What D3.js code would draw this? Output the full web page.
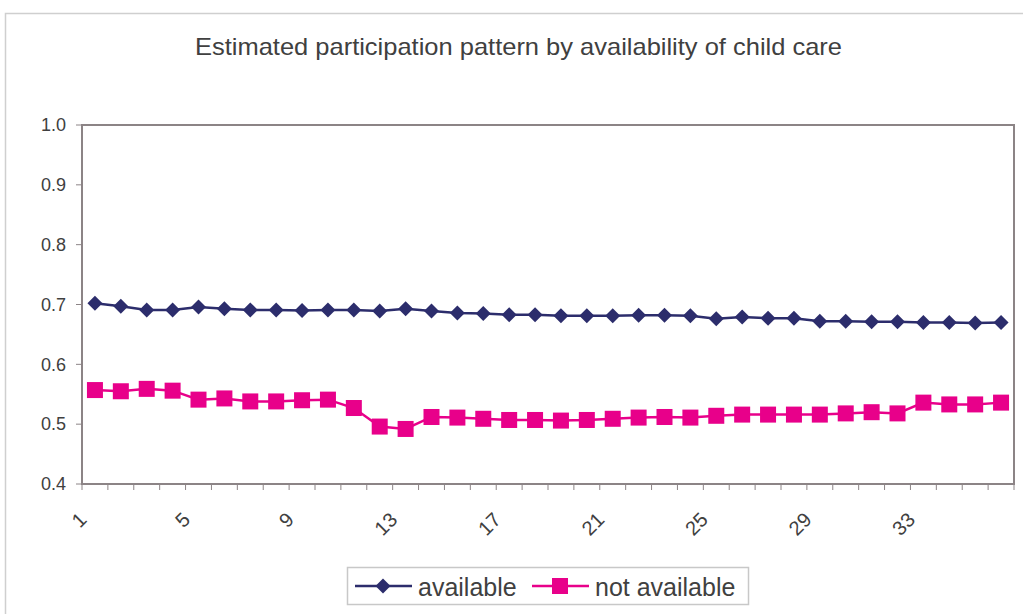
<!DOCTYPE html>
<html>
<head>
<meta charset="utf-8">
<script src="https://cdn.jsdelivr.net/npm/d3@7"></script>
<style>
  html, body { margin: 0; padding: 0; background: #fff; }
  svg { display: block; font-family: Arial, "Liberation Sans", sans-serif; }
</style>
</head>
<body>
<svg id="chart" width="1023" height="614"></svg>
<script>
const categories = d3.range(1, 37).map(String);
const available = [
  0.702, 0.697, 0.691, 0.691, 0.696, 0.693, 0.691, 0.691, 0.690, 0.691,
  0.691, 0.689, 0.693, 0.689, 0.686, 0.685, 0.683, 0.683, 0.681, 0.681,
  0.681, 0.682, 0.682, 0.681, 0.676, 0.679, 0.677, 0.677, 0.672, 0.672,
  0.671, 0.671, 0.670, 0.670, 0.669, 0.670
];
const notAvailable = [
  0.557, 0.555, 0.559, 0.556, 0.541, 0.543, 0.538, 0.538, 0.540, 0.541,
  0.527, 0.496, 0.492, 0.512, 0.511, 0.509, 0.507, 0.507, 0.506, 0.507,
  0.509, 0.511, 0.512, 0.511, 0.514, 0.516, 0.516, 0.516, 0.516, 0.518,
  0.520, 0.518, 0.536, 0.533, 0.533, 0.536
];
const xTickLabels = ["1", "5", "9", "13", "17", "21", "25", "29", "33"];
const yTicks = [0.4, 0.5, 0.6, 0.7, 0.8, 0.9, 1.0];
const seriesNames = ["available", "not available"];
const title = "Estimated participation pattern by availability of child care";

const colors = { available: "#2c2d6c", notAvailable: "#e8008a" };
const axisColor = "#8c8486";
const textColor = "#404040";

const svg = d3.select("#chart");
const plot = { left: 82, right: 1014, top: 125, bottom: 484 };

// outer chart border
svg.append("rect")
  .attr("x", 5.5).attr("y", 13.5)
  .attr("width", 1040).attr("height", 640)
  .attr("fill", "#fff").attr("stroke", "#cfcfcf").attr("stroke-width", 1.5);

// title
svg.append("text")
  .attr("x", 195).attr("y", 55)
  .attr("font-size", 24)
  .attr("textLength", 647)
  .attr("lengthAdjust", "spacingAndGlyphs")
  .attr("fill", textColor)
  .text(title);

const x = d3.scaleBand().domain(categories).range([plot.left, plot.right]).padding(0);
const y = d3.scaleLinear().domain([0.4, 1.0]).range([plot.bottom, plot.top]);
const cx = c => x(c) + x.bandwidth() / 2;

// plot area
svg.append("rect")
  .attr("x", plot.left).attr("y", plot.top)
  .attr("width", plot.right - plot.left).attr("height", plot.bottom - plot.top)
  .attr("fill", "#fff").attr("stroke", axisColor).attr("stroke-width", 2);

// y axis ticks + labels
const yAxis = svg.append("g");
yAxis.selectAll("line").data(yTicks).join("line")
  .attr("x1", plot.left - 6).attr("x2", plot.left)
  .attr("y1", d => y(d)).attr("y2", d => y(d))
  .attr("stroke", axisColor).attr("stroke-width", 1);
yAxis.selectAll("text").data(yTicks).join("text")
  .attr("x", 66).attr("y", d => y(d))
  .attr("dy", "0.35em")
  .attr("text-anchor", "end")
  .attr("font-size", 18)
  .attr("fill", textColor)
  .text(d => d3.format(".1f")(d));

// x axis ticks at band boundaries
const boundaries = categories.map(c => x(c)).concat([plot.right]);
svg.append("g").selectAll("line").data(boundaries).join("line")
  .attr("x1", d => d).attr("x2", d => d)
  .attr("y1", plot.bottom).attr("y2", plot.bottom + 6)
  .attr("stroke", axisColor).attr("stroke-width", 1);

// x tick labels, rotated
svg.append("g").selectAll("text").data(xTickLabels).join("text")
  .attr("transform", d => `translate(${cx(d) - 12},${plot.bottom + 32}) rotate(-45)`)
  .attr("text-anchor", "end")
  .attr("dy", "0.35em")
  .attr("font-size", 20)
  .attr("fill", textColor)
  .text(d => d);

const line = d3.line().x(d => cx(d.c)).y(d => y(d.v));
const availData = categories.map((c, i) => ({ c, v: available[i] }));
const notData = categories.map((c, i) => ({ c, v: notAvailable[i] }));

const diamond = s => `M0,${-s}L${s},0L0,${s}L${-s},0Z`;

// series: not available
svg.append("path").datum(notData)
  .attr("d", line).attr("fill", "none")
  .attr("stroke", colors.notAvailable).attr("stroke-width", 2.5);
svg.append("g").selectAll("rect").data(notData).join("rect")
  .attr("x", d => cx(d.c) - 8).attr("y", d => y(d.v) - 8)
  .attr("width", 16).attr("height", 16)
  .attr("fill", colors.notAvailable);

// series: available
svg.append("path").datum(availData)
  .attr("d", line).attr("fill", "none")
  .attr("stroke", colors.available).attr("stroke-width", 2.5);
svg.append("g").selectAll("path").data(availData).join("path")
  .attr("transform", d => `translate(${cx(d.c)},${y(d.v)})`)
  .attr("d", diamond(7.5))
  .attr("fill", colors.available);

// legend
const lg = svg.append("g");
lg.append("rect")
  .attr("x", 347.5).attr("y", 567.5).attr("width", 401).attr("height", 37)
  .attr("fill", "#fff").attr("stroke", "#c8c8c8").attr("stroke-width", 1.5);
const ly = 586;
lg.append("line").attr("x1", 355).attr("x2", 412).attr("y1", ly).attr("y2", ly)
  .attr("stroke", colors.available).attr("stroke-width", 2.5);
lg.append("path").attr("transform", `translate(383,${ly})`).attr("d", diamond(7.5))
  .attr("fill", colors.available);
lg.append("text").attr("x", 418).attr("y", 596).attr("font-size", 25)
  .attr("fill", textColor).text(seriesNames[0]);
lg.append("line").attr("x1", 532).attr("x2", 589).attr("y1", ly).attr("y2", ly)
  .attr("stroke", colors.notAvailable).attr("stroke-width", 2.5);
lg.append("rect").attr("x", 552).attr("y", ly - 8).attr("width", 16).attr("height", 16)
  .attr("fill", colors.notAvailable);
lg.append("text").attr("x", 595).attr("y", 596).attr("font-size", 25)
  .attr("fill", textColor).text(seriesNames[1]);
</script>
</body>
</html>
